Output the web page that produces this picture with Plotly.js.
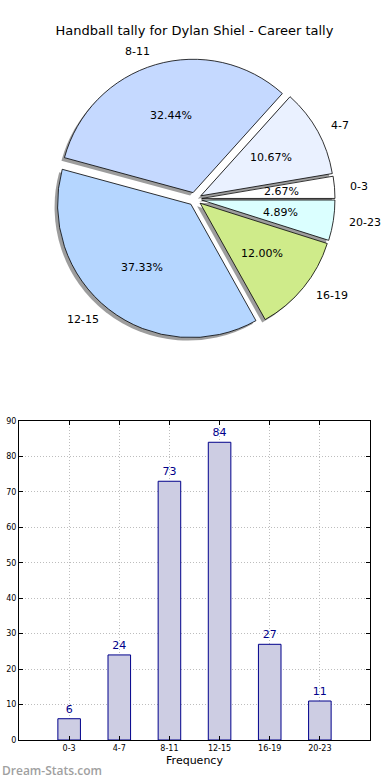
<!DOCTYPE html>
<html>
<head>
<meta charset="utf-8">
<script src="https://cdn.plot.ly/plotly-3.0.1.min.js"></script>
<style>html,body{margin:0;padding:0;background:#fff}#chart{width:390px;height:780px}</style>
</head>
<body>
<div id="chart"></div>
<script>
const categories = ['0-3','4-7','8-11','12-15','16-19','20-23'];
const counts = [6, 24, 73, 84, 27, 11];
const sliceColors = ['#ffffff','#eaf1ff','#c5d9ff','#b5d6ff','#cfeb8a','#dbffff'];
const pulls = [0.05, 0.05, 0.05, 0.05, 0.05, 0.05];
const yTicks = [0,10,20,30,40,50,60,70,80,90];

const W = 390, H = 780;
const M = {l:19, r:20, t:0, b:40};
const pw = W - M.l - M.r, ph = H - M.t - M.b;
const pieCx = 195, pieCy = 199, pieBox = 280;
const px2x = p => (p - M.l) / pw;
const py2y = p => 1 - (p - M.t) / ph;
const pieDomX = [px2x(pieCx - pieBox/2), px2x(pieCx + pieBox/2)];
const pieDomY = [py2y(pieCy + pieBox/2), py2y(pieCy - pieBox/2)];
const sh = 3;
const shDomX = pieDomX.map(v => v - sh/pw);
const shDomY = pieDomY.map(v => v - sh/ph);

const total = counts.reduce((a,b)=>a+b,0);
// first slice starts at 3 o'clock and runs counterclockwise
const rot = 90 - counts[0]/total*360;

const font = 'DejaVu Sans, sans-serif';

const shadow = {
  type:'pie', values:counts, labels:categories, sort:false,
  direction:'counterclockwise', rotation:rot, pull:pulls,
  marker:{colors:categories.map(()=> 'rgba(60,60,60,0.5)'), line:{width:0}},
  textinfo:'none', hoverinfo:'skip', showlegend:false,
  domain:{x:shDomX, y:shDomY}
};
const pie = {
  type:'pie', values:counts, labels:categories, sort:false,
  direction:'counterclockwise', rotation:rot, pull:pulls,
  marker:{colors:sliceColors, line:{color:'#000000', width:0.8}},
  textinfo:'none', hoverinfo:'label+percent', showlegend:false,
  domain:{x:pieDomX, y:pieDomY}
};
const bars = {
  type:'bar', x:categories, y:counts, width:0.45,
  marker:{color:'#cdcde3', line:{color:'#00008b', width:1}},
  text:counts.map(String), textposition:'outside', cliponaxis:false,
  textfont:{family:font, size:11, color:'#00008b'},
  xaxis:'x', yaxis:'y', showlegend:false, hoverinfo:'x+y'
};

const layout = {
  width:W, height:H, margin:M, paper_bgcolor:'#ffffff', plot_bgcolor:'#ffffff',
  font:{family:font, color:'#000'},
  title:{text:'Handball tally for Dylan Shiel - Career tally', font:{family:font, size:13, color:'#000'},
         x:0.5, xref:'paper', xanchor:'center', y:1-30/H, yref:'container', yanchor:'middle'},
  xaxis:{domain:[0,1], anchor:'y', type:'category', range:[-1,6], showline:true, mirror:'ticks',
         linecolor:'#000', linewidth:1, ticks:'inside', ticklen:4, tickcolor:'#000',
         showgrid:true, gridcolor:'#bdbdbd', griddash:'1px,2px', gridwidth:1,
         tickfont:{family:font, size:8, color:'#000'},
         title:{text:'Frequency', font:{family:font, size:11, color:'#000'}, standoff:4}},
  yaxis:{domain:[0, py2y(421)], anchor:'x', range:[0,90], tickvals:yTicks, showline:true, mirror:'ticks',
         linecolor:'#000', linewidth:1, ticks:'inside', ticklen:4, tickcolor:'#000',
         showgrid:true, gridcolor:'#bdbdbd', griddash:'1px,2px', gridwidth:1, zeroline:false,
         tickfont:{family:font, size:8, color:'#000'}},
  annotations:[]
};

const wm = {text:'Dream-Stats.com', xref:'paper', yref:'paper', x:px2x(0), y:py2y(770),
  xanchor:'left', yanchor:'middle', showarrow:false,
  font:{family:'Open Sans, sans-serif', size:12, color:'#a0a0a0', weight:600}};
layout.annotations.push(wm);

const gd = document.getElementById('chart');
Plotly.newPlot(gd, [shadow, pie, bars], layout, {displayModeBar:false, staticPlot:true}).then(() => {
  let r = pieBox/2/(1+Math.max(...pulls)), cx = pieCx, cy = pieCy;
  try {
    const cd0 = gd.calcdata[1][0];
    if (cd0 && cd0.r) { r = cd0.r; cx = cd0.cx; cy = cd0.cy; }
  } catch(e) {}
  const anns = [wm];
  let cum = 0;
  counts.forEach((v,i) => {
    const mid = (cum + v/2)/total * 2*Math.PI;
    cum += v;
    const c = Math.cos(mid), s = Math.sin(mid);
    const rp = (0.6 + pulls[i]) * r, rl = (1.1 + pulls[i]) * r;
    anns.push({text:(v/total*100).toFixed(2)+'%', xref:'paper', yref:'paper',
      x:px2x(cx + rp*c), y:py2y(cy - rp*s), xanchor:'center', yanchor:'middle', showarrow:false,
      font:{family:font, size:11, color:'#000'}});
    anns.push({text:categories[i], xref:'paper', yref:'paper',
      x:px2x(cx + rl*c), y:py2y(cy - rl*s), xanchor:c>0?'left':'right', yanchor:'middle', showarrow:false,
      font:{family:font, size:11, color:'#000'}});
  });
  return Plotly.relayout(gd, {annotations:anns});
});
</script>
</body>
</html>
